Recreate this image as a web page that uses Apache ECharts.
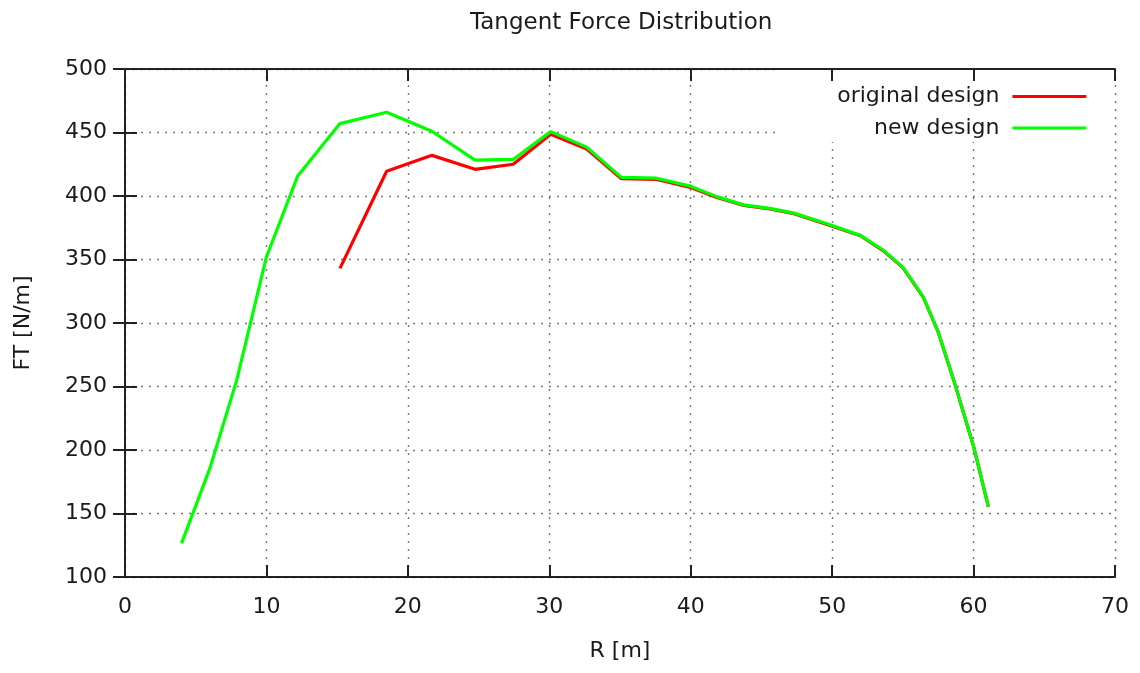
<!DOCTYPE html>
<html>
<head>
<meta charset="utf-8">
<title>Tangent Force Distribution</title>
<script src="https://cdn.jsdelivr.net/npm/echarts@6/dist/echarts.min.js"></script>
<style>
  html, body { margin: 0; padding: 0; background: #fff; }
  #chart { width: 1140px; height: 673px; }
</style>
</head>
<body>
<div id="chart"></div>
<script>
// Blade radius stations [m]
const radius = [4.0, 6.0, 7.9, 10.0, 12.2, 15.2, 18.5, 21.7, 24.75, 27.45, 30.1, 32.65,
  35.1, 37.6, 39.9, 41.85, 43.75, 45.6, 47.3, 49.8, 52.0, 53.6, 55.0, 56.45, 57.5,
  58.6, 60.0, 61.05];

// Tangential force per unit length [N/m]; the original blade starts at 15.2 m
const ftOriginal = [null, null, null, null, null, 343, 419.5, 432, 421, 425, 448.6, 437,
  413.6, 413, 407, 398.8, 392.5, 389.8, 386, 377, 368.7, 357, 343.6, 320.2, 292.8,
  254.8, 202.8, 155.3];
const ftNew = [126.5, 185.5, 255, 352, 415.5, 457, 466, 451, 428.3, 428.8, 450.7, 438.5,
  414.7, 414, 408, 399.5, 393, 390.3, 386.5, 377.5, 369, 357.5, 344, 320.5, 293,
  255, 203, 155.5];

const seriesNames = ['original design', 'new design'];
const xTicks = { min: 0, max: 70, interval: 10 };
const yTicks = { min: 100, max: 500, interval: 50 };

const pairs = (ys) => radius.map((r, i) => [r, ys[i]]);

const FONT = 'DejaVu Sans';
const INK = '#1a1a1a';
const frameLine = { color: '#222', width: 2 };
const gridDots = { color: '#7a7a7a', width: 1.4, type: [2, 6] };
const LINE_W = 3.2;

const chart = echarts.init(document.getElementById('chart'), null, { renderer: 'canvas' });

const legendBase = {
  orient: 'vertical',
  align: 'right',
  right: 52,
  itemWidth: 74,
  itemHeight: 22,
  itemGap: 0,
  padding: 0,
  selectedMode: false,
  itemStyle: { opacity: 0 },
  lineStyle: { width: LINE_W },
  textStyle: { fontFamily: FONT, fontSize: 22, color: INK, padding: [0, 8, 0, 0] }
};

chart.setOption({
  animation: false,
  backgroundColor: '#fff',
  textStyle: { fontFamily: FONT },
  // title centred over the plotting area
  title: {
    text: 'Tangent Force Distribution',
    left: 465,
    top: 7,
    textStyle: { fontFamily: FONT, fontSize: 23, fontWeight: 'normal', color: INK }
  },
  grid: { left: 125, right: 25, top: 69, bottom: 96, containLabel: false },
  legend: [
    Object.assign({}, legendBase, { data: [seriesNames[0]], top: 85.5 }),
    Object.assign({}, legendBase, { data: [seriesNames[1]], top: 117 })
  ],
  // blank panel behind the key, hiding the dotted grid there
  graphic: [{
    type: 'rect',
    z: 1,
    shape: { x: 778, y: 70, width: 336, height: 72 },
    style: { fill: '#fff' },
    silent: true
  }],
  xAxis: [{
    type: 'value',
    position: 'bottom',
    min: xTicks.min, max: xTicks.max, interval: xTicks.interval,
    z: 0,
    name: 'R [m]',
    nameLocation: 'middle',
    nameGap: 63,
    nameTextStyle: { fontFamily: FONT, fontSize: 22, color: INK },
    axisLine: { show: true, lineStyle: frameLine },
    axisTick: { show: true, inside: true, length: 12, lineStyle: frameLine },
    axisLabel: { fontFamily: FONT, fontSize: 22, color: INK, margin: 19 },
    splitLine: { show: true, lineStyle: gridDots }
  }, {
    type: 'value',
    position: 'top',
    min: xTicks.min, max: xTicks.max, interval: xTicks.interval,
    z: 2,
    axisLine: { show: true, lineStyle: frameLine },
    axisTick: { show: true, inside: true, length: 12, lineStyle: frameLine },
    axisLabel: { show: false },
    splitLine: { show: false }
  }],
  yAxis: [{
    type: 'value',
    position: 'left',
    min: yTicks.min, max: yTicks.max, interval: yTicks.interval,
    z: 0,
    name: 'FT [N/m]',
    nameLocation: 'middle',
    nameRotate: 90,
    nameGap: 91,
    nameTextStyle: { fontFamily: FONT, fontSize: 22, color: INK },
    axisLine: { show: true, lineStyle: frameLine },
    axisTick: { show: true, inside: true, length: 12, lineStyle: frameLine },
    axisLabel: { fontFamily: FONT, fontSize: 22, color: INK, margin: 18 },
    splitLine: { show: true, lineStyle: gridDots }
  }, {
    type: 'value',
    position: 'right',
    min: yTicks.min, max: yTicks.max, interval: yTicks.interval,
    z: 2,
    axisLine: { show: true, lineStyle: frameLine },
    axisTick: { show: true, inside: true, length: 12, lineStyle: frameLine },
    axisLabel: { show: false },
    splitLine: { show: false }
  }],
  series: [{
    name: seriesNames[0],
    type: 'line',
    xAxisIndex: 0, yAxisIndex: 0,
    z: 3,
    symbol: 'none',
    connectNulls: false,
    color: '#ff0000',
    lineStyle: { color: '#ff0000', width: LINE_W },
    data: pairs(ftOriginal)
  }, {
    name: seriesNames[1],
    type: 'line',
    xAxisIndex: 0, yAxisIndex: 0,
    z: 3,
    symbol: 'none',
    color: '#00ff00',
    lineStyle: { color: '#00ff00', width: LINE_W },
    data: pairs(ftNew)
  }]
});
</script>
</body>
</html>
